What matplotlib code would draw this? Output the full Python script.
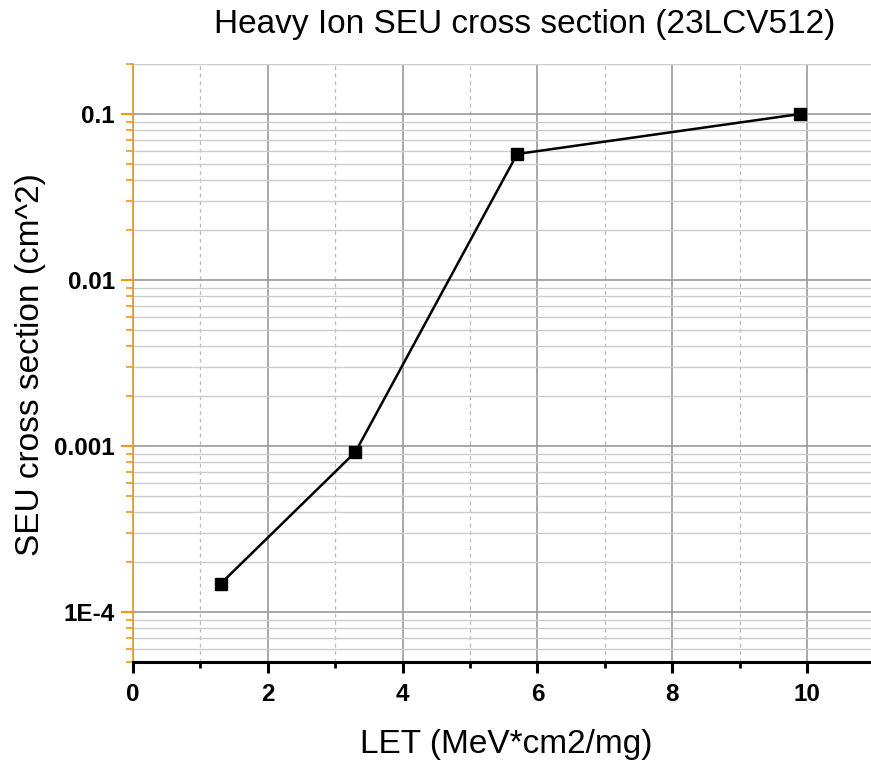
import matplotlib
matplotlib.use("Agg")
import matplotlib.pyplot as plt
from matplotlib.ticker import FixedLocator, LogLocator, NullFormatter, FixedFormatter

let = [1.3, 3.3, 5.7, 9.9]
cross_section = [1.48e-4, 9.2e-4, 0.0574, 0.1]
x_ticks = [0, 2, 4, 6, 8, 10]
y_ticks = [1e-4, 1e-3, 1e-2, 1e-1]
y_tick_labels = ["1E-4", "0.001", "0.01", "0.1"]

plt.rcParams['font.family'] = ['Liberation Sans', 'DejaVu Sans']

fig = plt.figure(figsize=(8.71, 7.62), dpi=100)
ax = fig.add_axes([133/871, 100/762, 1 - 133/871, (662-64)/762])

ax.set_yscale('log')
ax.set_xlim(0, 10.95)
ax.set_ylim(5e-5, 0.2)

ax.plot(let, cross_section, color='black', lw=1.8, marker='s', ms=9,
        mfc='black', mec='black', zorder=5)

ax.xaxis.set_major_locator(FixedLocator(x_ticks))
ax.xaxis.set_minor_locator(FixedLocator([1, 3, 5, 7, 9]))
ax.yaxis.set_major_locator(FixedLocator(y_ticks))
ax.yaxis.set_major_formatter(FixedFormatter(y_tick_labels))
ax.yaxis.set_minor_locator(LogLocator(base=10, subs=range(2, 10)))
ax.yaxis.set_minor_formatter(NullFormatter())

ax.grid(which='major', axis='both', color='#999999', lw=1.2, ls='-')
ax.grid(which='minor', axis='y', color='#cccccc', lw=1.0, ls='-')
ax.grid(which='minor', axis='x', color='#bbbbbb', lw=0.9, ls=(0, (3, 3)))
ax.set_axisbelow(True)

orange = '#E89A1C'
for s in ['top', 'right']:
    ax.spines[s].set_visible(False)
ax.spines['left'].set_color(orange)
ax.spines['left'].set_linewidth(1.2)
ax.spines['bottom'].set_color('black')
ax.spines['bottom'].set_linewidth(2.2)

ax.tick_params(axis='x', which='major', direction='out', length=8, width=2.2,
               color='black', labelsize=17.5, pad=7)
ax.tick_params(axis='x', which='minor', direction='out', length=4, width=2.0, color='black')
ax.tick_params(axis='y', which='major', direction='out', length=9, width=1.5,
               color=orange, labelsize=17.5, pad=4)
ax.tick_params(axis='y', which='minor', direction='out', length=5, width=1.2, color=orange)
for lbl in ax.get_xticklabels() + ax.get_yticklabels():
    lbl.set_fontweight('bold')

ax.set_xlabel('LET (MeV*cm2/mg)', fontsize=24)
ax.xaxis.set_label_coords(506/871, 1 - 744/762, transform=fig.transFigure)
ax.xaxis.label.set_va('center')
ax.set_ylabel('SEU cross section (cm^2)', fontsize=24)
ax.yaxis.set_label_coords(31/871, 1 - 365/762, transform=fig.transFigure)
ax.yaxis.label.set_va('center')
fig.text(525/871, 1 - 25/762, 'Heavy Ion SEU cross section (23LCV512)',
         fontsize=24, ha='center', va='center')

fig.savefig('out.png', dpi=100)
